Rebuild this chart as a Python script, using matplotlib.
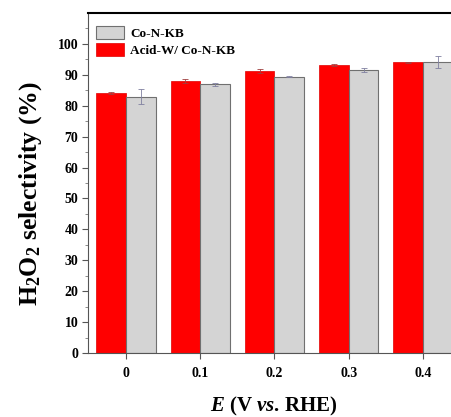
import matplotlib
matplotlib.use("Agg")
import matplotlib.pyplot as plt
import numpy as np

potentials = [0, 0.1, 0.2, 0.3, 0.4]
tick_labels = ["0", "0.1", "0.2", "0.3", "0.4"]
acid_w = [84.2, 88.1, 91.2, 93.1, 94.0]
acid_w_err = [0.4, 0.6, 0.6, 0.4, 0.3]
co_n_kb = [82.9, 86.9, 89.4, 91.5, 94.1]
co_n_kb_err = [2.5, 0.6, 0.2, 0.6, 2.0]

plt.rcParams['font.family'] = ['Liberation Serif', 'DejaVu Serif']
plt.rcParams['mathtext.fontset'] = 'custom'
plt.rcParams['mathtext.rm'] = 'Liberation Serif:bold'
plt.rcParams['mathtext.it'] = 'Liberation Serif:bold:italic'
plt.rcParams['mathtext.bf'] = 'Liberation Serif:bold'

fig = plt.figure(figsize=(4.51, 4.17), dpi=100)
ax = fig.add_axes([88/451, 64/417, 372/451, 340/417])

w = 0.04
x = np.array(potentials)
ax.bar(x - w/2, acid_w, width=w, color='#ff0000', edgecolor='#e00000', linewidth=0.5,
       yerr=acid_w_err, error_kw=dict(ecolor='#a04040', elinewidth=0.6, capsize=2, capthick=0.6),
       label='Acid-W/ Co-N-KB', zorder=2)
ax.bar(x + w/2, co_n_kb, width=w, color='#d4d4d4', edgecolor='#707070', linewidth=0.8,
       yerr=co_n_kb_err, error_kw=dict(ecolor='#8080a0', elinewidth=0.6, capsize=2, capthick=0.6),
       label='Co-N-KB', zorder=2)

ax.set_xlim(-0.0512, 0.45)
ax.set_ylim(0, 110)
ax.set_xticks(potentials)
ax.set_xticklabels(tick_labels)
ax.set_yticks(np.arange(0, 101, 10))
ax.set_yticks(np.arange(5, 106, 10), minor=True)
for lab in ax.get_xticklabels() + ax.get_yticklabels():
    lab.set_fontweight('bold')
    lab.set_fontsize(10)
ax.tick_params(axis='both', direction='out', length=4, width=0.8, color='#555555', pad=3)
ax.tick_params(axis='y', which='minor', direction='out', length=2.5, width=0.6, color='#777777')
ax.tick_params(axis='x', pad=6)

ax.spines['right'].set_visible(False)
ax.spines['top'].set_linewidth(1.5)
ax.spines['top'].set_color('black')
ax.spines['left'].set_color('#555555')
ax.spines['bottom'].set_color('#555555')

ax.set_ylabel('H$_2$O$_2$ selectivity (%)', fontsize=18.5, fontweight='bold')
ax.yaxis.set_label_coords(-0.118, 0.47)
ax.set_xlabel('$E$ (V $vs$. RHE)', fontsize=15, fontweight='bold', labelpad=11)

handles, labels = ax.get_legend_handles_labels()
leg = ax.legend(handles[::-1], labels[::-1], loc='upper left', frameon=False,
                bbox_to_anchor=(0.0215, 0.962), borderaxespad=0, borderpad=0,
                prop=dict(family='Liberation Serif', weight='bold', size=9.5),
                handlelength=2.1, handleheight=1.2, labelspacing=0.2,
                handletextpad=0.5)

fig.savefig('out.png', dpi=100)
